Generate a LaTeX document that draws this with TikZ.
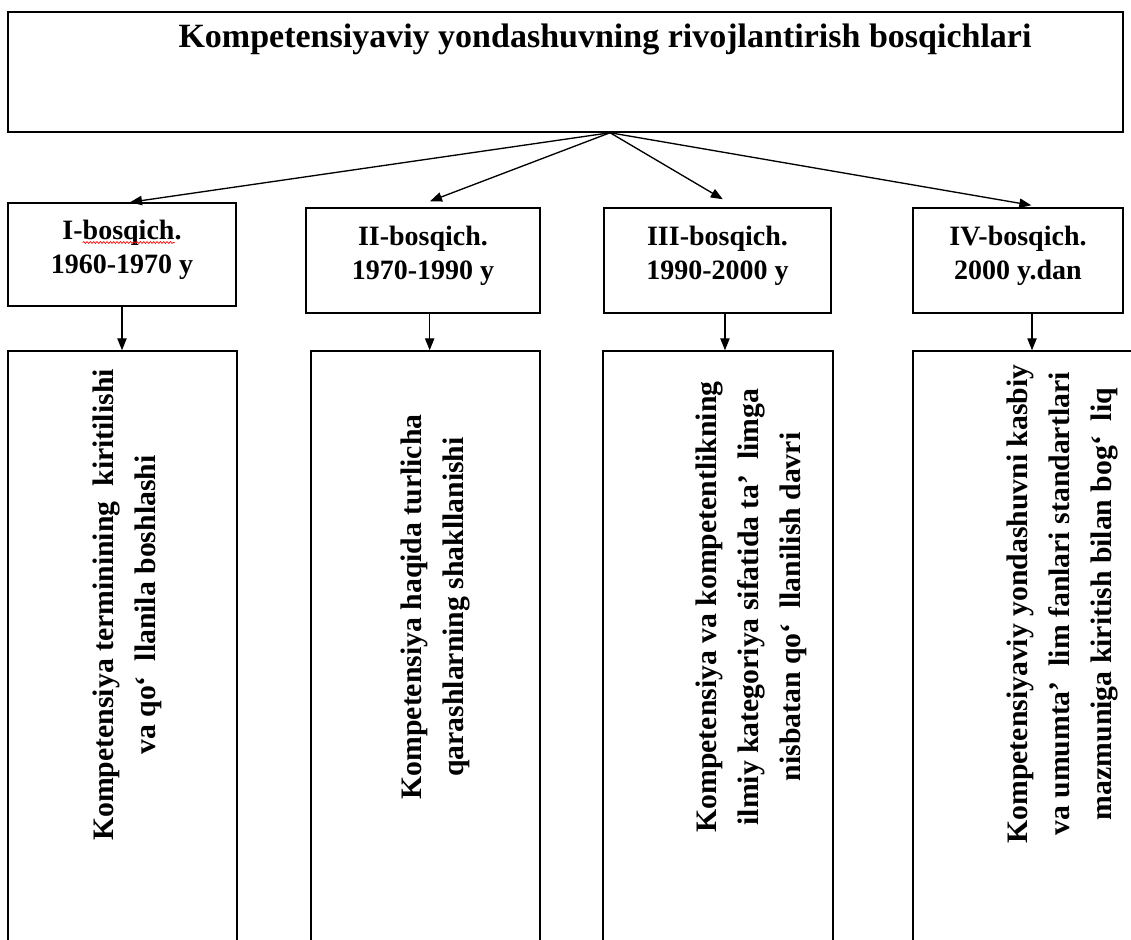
\documentclass[tikz,border=0pt]{standalone}
\usepackage{fontspec}
\setmainfont{Liberation Serif}
\usetikzlibrary{arrows.meta,decorations.pathmorphing}

\begin{document}
\begin{tikzpicture}[x=0.75pt,y=-0.75pt,>={Triangle[length=9pt,width=7pt]},
  box/.style={draw, rectangle, line width=1.1pt, inner sep=0pt},
  titletext/.style={font=\fontsize{25.5}{30}\selectfont\bfseries},
  stagetext/.style={align=center, font=\fontsize{21}{25}\selectfont\bfseries},
  periodtext/.style={rotate=90, align=center, font=\fontsize{22.3}{31.5}\selectfont\bfseries},
  link/.style={->, line width=1pt}]
\useasboundingbox (0,0) rectangle (1131,939);

% title box
\node[box, minimum width=836.25pt, minimum height=90pt] (title) at (565.5,72) {};
\node[titletext, anchor=base] (titletxt) at (605,47) {Kompetensiyaviy yondashuvning rivojlantirish bosqichlari};
\coordinate (hub) at ([xshift=33.4pt]title.south);

% stages
\node[box, minimum width=171pt, minimum height=77.25pt] (s1) at (122,254.5) {};
\node[box, minimum width=175.5pt, minimum height=78.75pt] (s2) at (423,260.5) {};
\node[box, minimum width=170.25pt, minimum height=78.75pt] (s3) at (717.5,260.5) {};
\node[box, minimum width=157.5pt, minimum height=78.75pt] (s4) at (1018,260.5) {};

\node[stagetext, yshift=3.4pt] (st1) at (s1) {I-bosqich.\\1960-1970 y};
\node[stagetext, yshift=3.4pt] (st2) at (s2) {II-bosqich.\\1970-1990 y};
\node[stagetext, yshift=3.4pt] (st3) at (s3) {III-bosqich.\\1990-2000 y};
\node[stagetext, yshift=3.4pt] (st4) at (s4) {IV-bosqich.\\2000 y.dan};
\draw[red, line width=0.5pt, decorate, decoration={snake, amplitude=0.7pt, segment length=2.5pt}]
  ([xshift=-29.5pt,yshift=5.6pt]st1.center) -- ([xshift=39.4pt,yshift=5.6pt]st1.center);

% periods
\node[box, minimum width=171.75pt, minimum height=456.75pt] (b1) at (122.5,655.5) {};
\node[box, minimum width=171.75pt, minimum height=456.75pt] (b2) at (425.5,655.5) {};
\node[box, minimum width=172.5pt, minimum height=456.75pt] (b3) at (718,655.5) {};
\node[box, minimum width=170.25pt, minimum height=456.75pt] (b4) at (1026.5,655.5) {};

\node[periodtext] (t1) at (127,605) {Kompetensiya terminining~ kiritilishi\\va qo‘~~llanila boshlashi};
\node[periodtext] (t2) at (435,607) {Kompetensiya haqida turlicha\\qarashlarning shakllanishi};
\node[periodtext] (t3) at (751,607) {Kompetensiya va kompetentlikning\\ilmiy kategoriya sifatida ta’~~limga\\nisbatan qo‘~~llanilish davri};
\node[periodtext] (t4) at (1062,604) {Kompetensiyaviy yondashuvni kasbiy\\va umumta’~~lim fanlari standartlari\\mazmuniga kiritish bilan bog‘~~liq};

% arrows
\draw[link] (hub) -- ([xshift=6pt]s1.north);
\draw[link] (hub) -- ([xshift=5.25pt,yshift=4.5pt]s2.north);
\draw[link] (hub) -- ([xshift=4pt,yshift=6pt]s3.north);
\draw[link] (hub) -- ([xshift=10pt,yshift=1.5pt]s4.north);

\draw[link] (s1.south) -- (s1.south |- b1.north);
\draw[link] ([xshift=5pt]s2.south) -- ([xshift=5pt]s2.south |- b2.north);
\draw[link] ([xshift=5.6pt]s3.south) -- ([xshift=5.6pt]s3.south |- b3.north);
\draw[link] ([xshift=10.5pt]s4.south) -- ([xshift=10.5pt]s4.south |- b4.north);
\end{tikzpicture}
\end{document}
